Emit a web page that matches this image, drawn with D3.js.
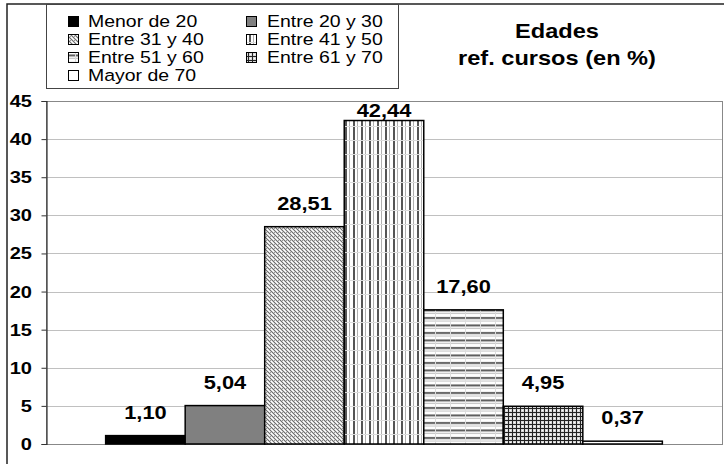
<!DOCTYPE html>
<html>
<head>
<meta charset="utf-8">
<script src="https://cdn.jsdelivr.net/npm/d3@7"></script>
<style>
  body { margin: 0; background: #fff; }
  svg { display: block; font-family: "Liberation Sans", Arial, sans-serif; }
</style>
</head>
<body>
<svg id="chart" width="724" height="464"></svg>
<script>
// data
var categories = ["Menor de 20", "Entre 20 y 30", "Entre 31 y 40", "Entre 41 y 50",
                  "Entre 51 y 60", "Entre 61 y 70", "Mayor de 70"];
var values = [1.10, 5.04, 28.51, 42.44, 17.60, 4.95, 0.37];
var yTicks = [0, 5, 10, 15, 20, 25, 30, 35, 40, 45];
var titleLines = ["Edades", "ref. cursos (en %)"];

// fill for each category (patterns defined below)
var fills = ["#000", "#808080", "url(#p3140)", "url(#p4150)", "url(#p5160)", "url(#p6170)", "#fff"];

var width = 724, height = 464;
var sx = 1.18; // text in the original is drawn a bit wide
var svg = d3.select("#chart");

var defs = svg.append("defs");

// diagonal dense, checkered look
var p = defs.append("pattern").attr("id", "p3140").attr("patternUnits", "userSpaceOnUse")
  .attr("width", 4).attr("height", 4);
p.append("rect").attr("width", 4).attr("height", 4).attr("fill", "#fff");
p.append("path").attr("d", "M0,0L4,4M-1,3L1,5M3,-1L5,1").attr("stroke", "#6a6a6a").attr("stroke-width", 1.2);
p.append("rect").attr("x", 2).attr("y", 0).attr("width", 1).attr("height", 1).attr("fill", "#999");

// vertical stripes
p = defs.append("pattern").attr("id", "p4150").attr("patternUnits", "userSpaceOnUse")
  .attr("width", 8).attr("height", 14);
p.append("rect").attr("width", 8).attr("height", 14).attr("fill", "#fff");
p.append("rect").attr("x", 1).attr("width", 2).attr("height", 14).attr("fill", "#555");
p.append("rect").attr("x", 5).attr("width", 1).attr("height", 14).attr("fill", "#b0b0b0");
p.append("rect").attr("y", 0).attr("width", 8).attr("height", 1).attr("fill", "#dcdcdc");

// horizontal stripes
p = defs.append("pattern").attr("id", "p5160").attr("patternUnits", "userSpaceOnUse")
  .attr("width", 15).attr("height", 7.5);
p.append("rect").attr("width", 15).attr("height", 7.5).attr("fill", "#fff");
p.append("rect").attr("y", 2).attr("width", 15).attr("height", 2).attr("fill", "#5a5a5a");
p.append("rect").attr("y", 5.5).attr("width", 15).attr("height", 1).attr("fill", "#c0c0c0");
p.append("rect").attr("x", 0).attr("width", 1).attr("height", 7.5).attr("fill", "#dcdcdc");

// small grid
p = defs.append("pattern").attr("id", "p6170").attr("patternUnits", "userSpaceOnUse")
  .attr("width", 4).attr("height", 4);
p.append("rect").attr("width", 4).attr("height", 4).attr("fill", "#d8d8d8");
p.append("rect").attr("width", 1).attr("height", 4).attr("fill", "#222");
p.append("rect").attr("width", 4).attr("height", 1).attr("fill", "#222");
p.append("rect").attr("x", 2).attr("y", 2).attr("width", 1).attr("height", 1).attr("fill", "#fff");

var plot = {left: 46, right: 722, top: 101, bottom: 444};

var x = d3.scaleBand()
  .domain(categories)
  .range([plot.left, plot.right])
  .paddingInner(0)
  .paddingOuter(0.75);

var y = d3.scaleLinear()
  .domain([0, 45])
  .range([plot.bottom, plot.top]);

function place(sel, px, py) {
  return sel.attr("transform", "translate(" + px + "," + py + ") scale(" + sx + ",1)");
}

// outer frame
svg.append("rect")
  .attr("x", 7).attr("y", 4)
  .attr("width", width + 10).attr("height", height + 10)
  .attr("fill", "none").attr("stroke", "#222").attr("stroke-width", 1.5);

// grid lines
svg.append("g").selectAll("line")
  .data(yTicks.filter(function (d) { return d > 0 && d < 45; }))
  .enter().append("line")
  .attr("x1", plot.left).attr("x2", plot.right)
  .attr("y1", function (d) { return Math.round(y(d)) + 0.5; })
  .attr("y2", function (d) { return Math.round(y(d)) + 0.5; })
  .attr("stroke", "#c0c0c0");

// plot area border
svg.append("rect")
  .attr("x", plot.left + 0.5).attr("y", plot.top + 0.5)
  .attr("width", plot.right - plot.left).attr("height", plot.bottom - plot.top)
  .attr("fill", "none").attr("stroke", "#888");

// bars
svg.append("g").selectAll("rect")
  .data(values)
  .enter().append("rect")
  .attr("x", function (d, i) { return x(categories[i]); })
  .attr("y", function (d) { return y(d); })
  .attr("width", x.bandwidth())
  .attr("height", function (d) { return plot.bottom - y(d); })
  .attr("fill", function (d, i) { return fills[i]; })
  .attr("stroke", "#000")
  .attr("stroke-width", 1.5);

// y axis
var yAxis = svg.append("g")
  .attr("transform", "translate(" + (plot.left + 0.5) + ",0)")
  .call(d3.axisLeft(y).tickValues(yTicks).tickSize(5).tickFormat(""));
yAxis.select(".domain").attr("stroke", "#333").attr("stroke-width", 1.2);
yAxis.selectAll(".tick line").attr("stroke", "#333");

svg.append("g").selectAll("text")
  .data(yTicks)
  .enter().append("text")
  .each(function (d) { place(d3.select(this), 32, y(d) + 6); })
  .attr("text-anchor", "end")
  .attr("font-size", 17)
  .attr("font-weight", "bold")
  .text(function (d) { return d; });

// value labels
svg.append("g").selectAll("text")
  .data(values)
  .enter().append("text")
  .each(function (d, i) {
    var ty = Math.max(y(d) - 17, plot.top + 16);
    place(d3.select(this), x(categories[i]) + x.bandwidth() / 2, ty);
  })
  .attr("text-anchor", "middle")
  .attr("font-size", 18.5)
  .attr("font-weight", "bold")
  .text(function (d) { return d.toFixed(2).replace(".", ","); });

// legend
var legend = svg.append("g");
legend.append("rect")
  .attr("x", 46.5).attr("y", 4.5)
  .attr("width", 352).attr("height", 84)
  .attr("fill", "#fff").attr("stroke", "#444");

var items = legend.selectAll("g.item")
  .data(categories)
  .enter().append("g")
  .attr("class", "item");

items.append("rect")
  .attr("x", function (d, i) { return i % 2 === 0 ? 68.5 : 246.5; })
  .attr("y", function (d, i) { return 16.5 + Math.floor(i / 2) * 18; })
  .attr("width", 10).attr("height", 10)
  .attr("fill", function (d, i) { return fills[i]; })
  .attr("stroke", "#000");

items.append("text")
  .each(function (d, i) {
    place(d3.select(this), i % 2 === 0 ? 88 : 267, 27 + Math.floor(i / 2) * 18);
  })
  .attr("font-size", 16.5)
  .text(function (d) { return d; });

// title
svg.append("g").selectAll("text")
  .data(titleLines)
  .enter().append("text")
  .each(function (d, i) { place(d3.select(this), 557, 38 + i * 27); })
  .attr("text-anchor", "middle")
  .attr("font-size", 20)
  .attr("font-weight", "bold")
  .text(function (d) { return d; });
</script>
</body>
</html>
